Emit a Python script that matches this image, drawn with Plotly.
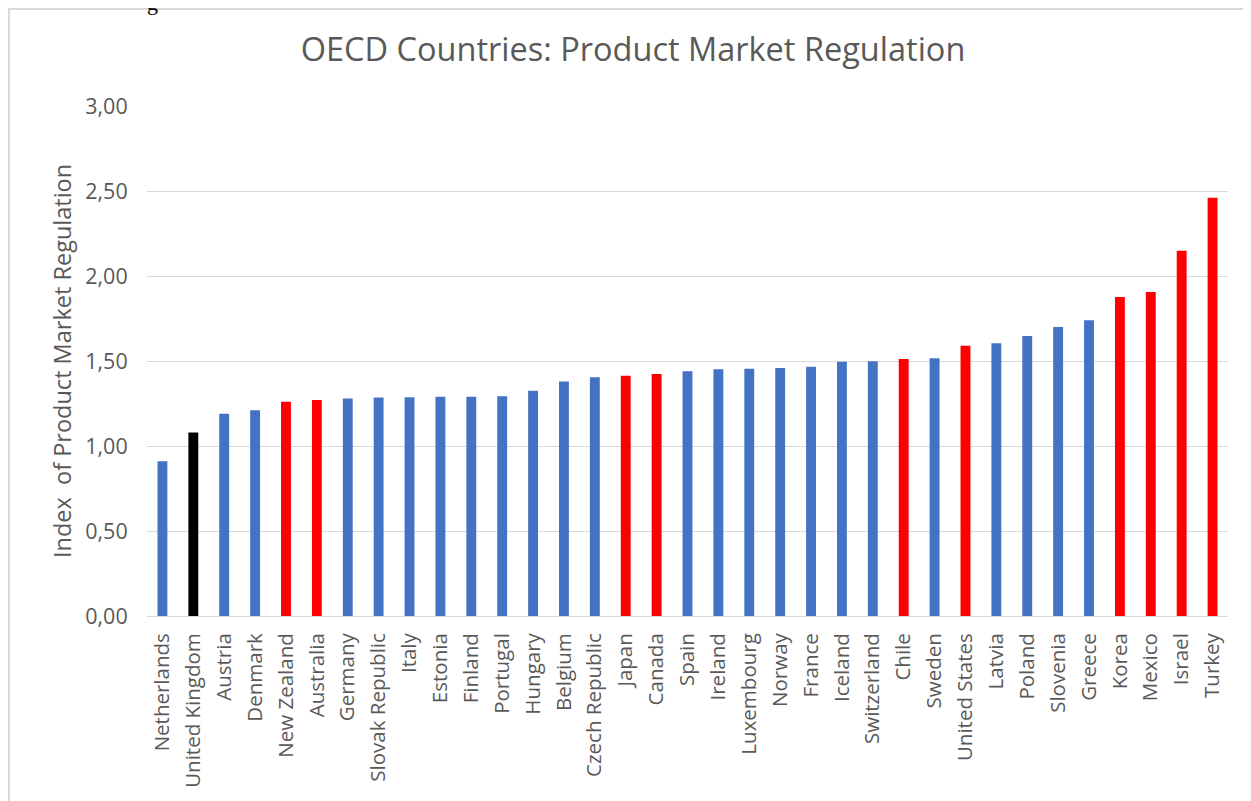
import plotly.graph_objects as go

countries = ["Netherlands", "United Kingdom", "Austria", "Denmark", "New Zealand",
             "Australia", "Germany", "Slovak Republic", "Italy", "Estonia", "Finland",
             "Portugal", "Hungary", "Belgium", "Czech Republic", "Japan", "Canada",
             "Spain", "Ireland", "Luxembourg", "Norway", "France", "Iceland",
             "Switzerland", "Chile", "Sweden", "United States", "Latvia", "Poland",
             "Slovenia", "Greece", "Korea", "Mexico", "Israel", "Turkey"]
pmr_index = [0.91, 1.08, 1.19, 1.21, 1.26, 1.27, 1.28, 1.285, 1.287, 1.289, 1.29,
             1.293, 1.325, 1.38, 1.405, 1.413, 1.424, 1.44, 1.451, 1.455, 1.459,
             1.466, 1.496, 1.498, 1.512, 1.516, 1.589, 1.604, 1.647, 1.70, 1.739,
             1.876, 1.906, 2.148, 2.46]
red_group = ["New Zealand", "Australia", "Japan", "Canada", "Chile", "United States",
             "Korea", "Mexico", "Israel", "Turkey"]
black_group = ["United Kingdom"]
y_ticks = [0, 0.5, 1.0, 1.5, 2.0, 2.5, 3.0]
y_tick_labels = ["0,00", "0,50", "1,00", "1,50", "2,00", "2,50", "3,00"]

BLUE, RED, BLACK = "#4472C4", "#FF0000", "#000000"
colors = [RED if c in red_group else BLACK if c in black_group else BLUE for c in countries]

# page body has an 8px margin; work in page pixels and convert
OFF = 8
W, H = 1251 - OFF, 801 - OFF
L, R, T, B = 147 - OFF, 1228 - OFF, 106 - OFF, 616 - OFF
pw, ph = R - L, B - T

def px_x(x):
    return (x - OFF - L) / pw

def px_y(y):
    return (B - (y - OFF)) / ph

TXT = "#595959"
FONT = "Open Sans"

fig = go.Figure(go.Bar(x=countries, y=pmr_index, marker=dict(color=colors, line=dict(width=0))))

fig.update_layout(
    width=W, height=H,
    margin=dict(l=L, r=W - R, t=T, b=H - B, autoexpand=False),
    plot_bgcolor="white", paper_bgcolor="white",
    bargap=0.68, showlegend=False,
    font=dict(family=FONT, color=TXT, size=20),
    title=dict(text="OECD Countries: Product Market Regulation", xref="container",
               x=(633 - OFF) / W, xanchor="center", yref="container", y=1 - (50 - OFF) / H,
               yanchor="middle", font=dict(family=FONT, size=32.5, color=TXT)),
)
fig.update_xaxes(showgrid=False, showline=False, zeroline=False, tickangle=-90,
                 ticks="outside", ticklen=8, tickcolor="rgba(0,0,0,0)",
                 tickfont=dict(family=FONT, size=20.5, color=TXT), automargin=False)
fig.update_yaxes(range=[0, 3.0], tickvals=y_ticks, ticktext=y_tick_labels,
                 showgrid=True, gridcolor="#D9D9D9", gridwidth=1.3,
                 zeroline=True, zerolinecolor="#D9D9D9", zerolinewidth=1.3,
                 showline=False, ticks="outside", ticklen=14, tickcolor="rgba(0,0,0,0)",
                 tickfont=dict(family=FONT, size=21.5, color=TXT), automargin=False)

fig.add_annotation(text="Index  of Product Market Regulation", textangle=-90,
                   xref="paper", yref="paper", x=px_x(62), y=px_y(361),
                   xanchor="center", yanchor="middle", showarrow=False,
                   font=dict(family=FONT, size=23.5, color=TXT))

# outer chart border
fig.add_shape(type="rect", xref="paper", yref="paper",
              x0=px_x(9), y0=px_y(830), x1=px_x(1280), y1=px_y(9),
              line=dict(color="#D9D9D9", width=2), fillcolor="rgba(0,0,0,0)", layer="below")

# cut-off text from the page above
fig.add_annotation(text="g", xref="paper", yref="paper", x=px_x(152), y=px_y(17),
                   xanchor="center", yanchor="bottom", showarrow=False,
                   font=dict(family="Liberation Serif", size=22, color="black"))

fig.write_html("out.html")
